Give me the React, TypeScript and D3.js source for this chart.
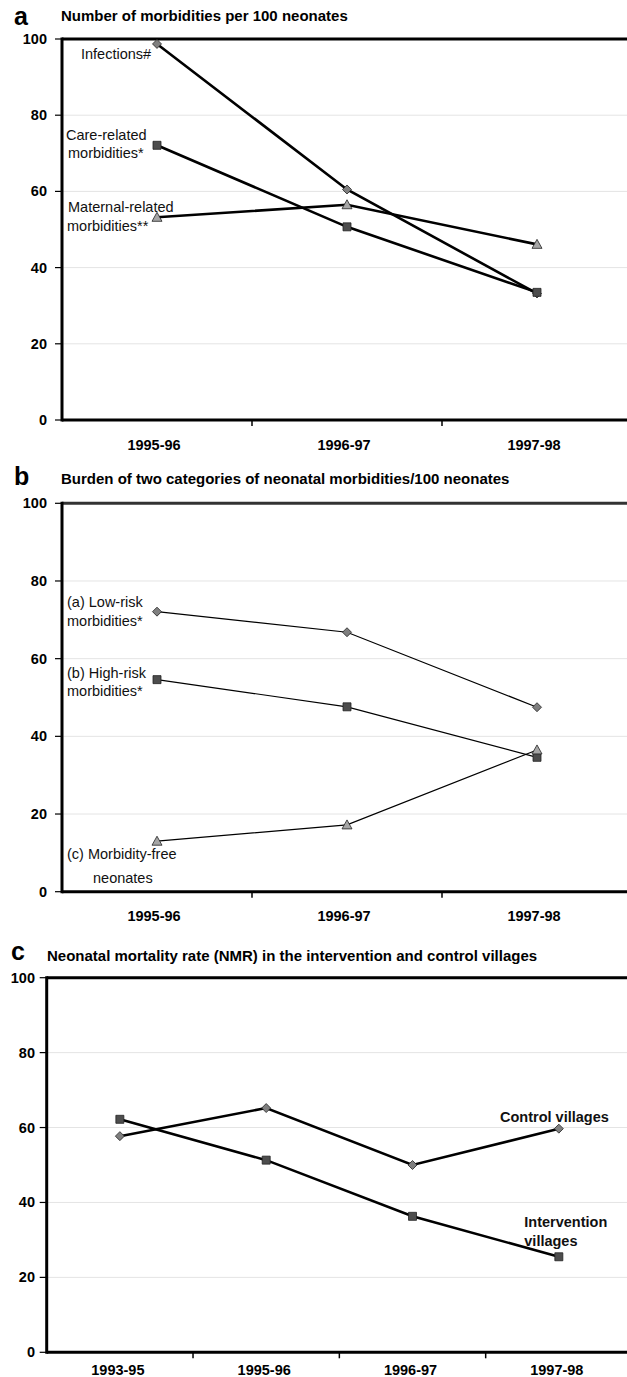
import React from 'react';
import * as d3 from 'd3';

const categoriesAB = ['1995-96', '1996-97', '1997-98'];
const categoriesC = ['1993-95', '1995-96', '1996-97', '1997-98'];
const yTicks = [0, 20, 40, 60, 80, 100];

// Panel a
const infections = [98.7, 60.5, 33.2];
const careRelated = [72.1, 50.7, 33.5];
const maternalRelated = [53.2, 56.5, 46.1];

// Panel b
const lowRisk = [72.1, 66.8, 47.5];
const highRisk = [54.6, 47.6, 34.6];
const morbidityFree = [13.0, 17.2, 36.5];

// Panel c
const controlVillages = [57.7, 65.2, 50.0, 59.7];
const interventionVillages = [62.2, 51.3, 36.3, 25.5];

const FONT = '"Liberation Sans", Arial, Helvetica, sans-serif';
const W = 627;
const H = 1377;

type Marker = 'diamond' | 'square' | 'triangle';

function markerPath(m: Marker): string {
  if (m === 'diamond') return 'M0,-4.5L4.5,0L0,4.5L-4.5,0Z';
  if (m === 'square') return 'M-4,-4L4,-4L4,4L-4,4Z';
  return 'M0,-5L5,4L-5,4Z';
}
const markerFill: Record<Marker, string> = {
  diamond: '#7f7f7f',
  square: '#4d4d4d',
  triangle: '#a6a6a6',
};

interface Series {
  values: number[];
  marker: Marker;
}

interface Label {
  lines: string[];
  x: number[];
  y: number[];
  bold?: boolean;
}

interface PanelProps {
  letter: string;
  letterX: number;
  letterY: number;
  title: string;
  titleX: number;
  titleY: number;
  categories: string[];
  xLeft: number;
  xRight: number;
  yTop: number;
  yBottom: number;
  series: Series[];
  labels: Label[];
  lineWidth: number;
  topColor: string;
  tickLabelRight: number;
  xLabelY: number;
  xLabelDx: number;
}

function Panel(p: PanelProps) {
  const x = d3.scaleBand<string>().domain(p.categories).range([p.xLeft, p.xRight]);
  const y = d3.scaleLinear().domain([0, 100]).range([p.yBottom, p.yTop]);
  const cx = (c: string) => (x(c) as number) + x.bandwidth() / 2;
  const line = d3
    .line<number>()
    .x((_, i) => cx(p.categories[i]))
    .y((v) => y(v));
  const bounds = p.categories.map((c) => x(c) as number).slice(1);
  return (
    <g>
      <text x={p.letterX} y={p.letterY} fontFamily={FONT} fontWeight="bold" fontSize={25}>
        {p.letter}
      </text>
      <text x={p.titleX} y={p.titleY} fontFamily={FONT} fontWeight="bold" fontSize={15}>
        {p.title}
      </text>
      {yTicks.slice(1, 5).map((t) => (
        <line key={'g' + t} x1={p.xLeft} x2={W} y1={y(t)} y2={y(t)} stroke="#e4e4e4" strokeWidth={1} />
      ))}
      {yTicks.map((t) => (
        <g key={'t' + t}>
          <line x1={p.xLeft - 7} x2={p.xLeft} y1={y(t)} y2={y(t)} stroke="#000" strokeWidth={1.2} />
          <text
            x={p.tickLabelRight}
            y={y(t) + 5}
            textAnchor="end"
            fontFamily={FONT}
            fontWeight="bold"
            fontSize={14.5}
          >
            {t}
          </text>
        </g>
      ))}
      {bounds.map((b, i) => (
        <line key={'xb' + i} x1={b} x2={b} y1={p.yBottom} y2={p.yBottom + 6} stroke="#000" strokeWidth={1.5} />
      ))}
      <line x1={p.xLeft} x2={W} y1={p.yTop} y2={p.yTop} stroke={p.topColor} strokeWidth={3} />
      <line x1={p.xLeft} x2={W} y1={p.yBottom} y2={p.yBottom} stroke="#000" strokeWidth={3} />
      <line x1={p.xLeft} x2={p.xLeft} y1={p.yTop - 1.5} y2={p.yBottom + 1.5} stroke="#000" strokeWidth={3} />
      {p.categories.map((c) => (
        <text
          key={'xl' + c}
          x={cx(c) + p.xLabelDx}
          y={p.xLabelY}
          textAnchor="middle"
          fontFamily={FONT}
          fontWeight="bold"
          fontSize={14.5}
        >
          {c}
        </text>
      ))}
      {p.series.map((s, si) => (
        <path key={'l' + si} d={line(s.values) || ''} fill="none" stroke="#000" strokeWidth={p.lineWidth} />
      ))}
      {p.series.map((s, si) =>
        s.values.map((v, i) => (
          <path
            key={'m' + si + '-' + i}
            d={markerPath(s.marker)}
            transform={`translate(${cx(p.categories[i])},${y(v)})`}
            fill={markerFill[s.marker]}
            stroke="#222"
            strokeWidth={0.8}
          />
        ))
      )}
      {p.labels.map((l, li) =>
        l.lines.map((t, ti) => (
          <text
            key={'lab' + li + '-' + ti}
            x={l.x[ti]}
            y={l.y[ti]}
            fontFamily={FONT}
            fontWeight={l.bold ? 'bold' : 'normal'}
            fontSize={14.5}
            fill="#111"
          >
            {t}
          </text>
        ))
      )}
    </g>
  );
}

export default function App() {
  return (
    <svg
      width={W}
      height={H}
      viewBox={`0 0 ${W} ${H}`}
      style={{ position: 'absolute', left: 0, top: 0, background: '#fff' }}
    >
      <rect x={0} y={0} width={W} height={H} fill="#fff" />
      <Panel
        letter="a"
        letterX={14}
        letterY={25}
        title="Number of morbidities per 100 neonates"
        titleX={61}
        titleY={21}
        categories={categoriesAB}
        xLeft={62}
        xRight={632}
        yTop={39}
        yBottom={420}
        lineWidth={2.6}
        topColor="#000"
        tickLabelRight={47}
        xLabelY={450}
        xLabelDx={-3}
        series={[
          { values: infections, marker: 'diamond' },
          { values: careRelated, marker: 'square' },
          { values: maternalRelated, marker: 'triangle' },
        ]}
        labels={[
          { lines: ['Infections#'], x: [81], y: [59] },
          { lines: ['Care-related', 'morbidities*'], x: [66, 68], y: [140, 158] },
          { lines: ['Maternal-related', 'morbidities**'], x: [68, 67], y: [212, 231] },
        ]}
      />
      <Panel
        letter="b"
        letterX={14}
        letterY={485}
        title="Burden of two categories of neonatal morbidities/100 neonates"
        titleX={61}
        titleY={484}
        categories={categoriesAB}
        xLeft={62}
        xRight={632}
        yTop={503.3}
        yBottom={891.7}
        lineWidth={1.2}
        topColor="#333"
        tickLabelRight={47}
        xLabelY={921}
        xLabelDx={-3}
        series={[
          { values: lowRisk, marker: 'diamond' },
          { values: highRisk, marker: 'square' },
          { values: morbidityFree, marker: 'triangle' },
        ]}
        labels={[
          { lines: ['(a) Low-risk', 'morbidities*'], x: [67, 67], y: [607, 626] },
          { lines: ['(b) High-risk', 'morbidities*'], x: [67, 67], y: [678, 696] },
          { lines: ['(c) Morbidity-free', 'neonates'], x: [67, 93], y: [859, 883] },
        ]}
      />
      <Panel
        letter="c"
        letterX={11}
        letterY={960}
        title="Neonatal mortality rate (NMR) in the intervention and control villages"
        titleX={47}
        titleY={961}
        categories={categoriesC}
        xLeft={46.7}
        xRight={632}
        yTop={977.7}
        yBottom={1352.3}
        lineWidth={2.6}
        topColor="#000"
        tickLabelRight={35}
        xLabelY={1375}
        xLabelDx={-2}
        series={[
          { values: controlVillages, marker: 'diamond' },
          { values: interventionVillages, marker: 'square' },
        ]}
        labels={[
          { lines: ['Control villages'], x: [500], y: [1121.5], bold: true },
          { lines: ['Intervention', 'villages'], x: [524.3, 524.3], y: [1226.5, 1246], bold: true },
        ]}
      />
    </svg>
  );
}
